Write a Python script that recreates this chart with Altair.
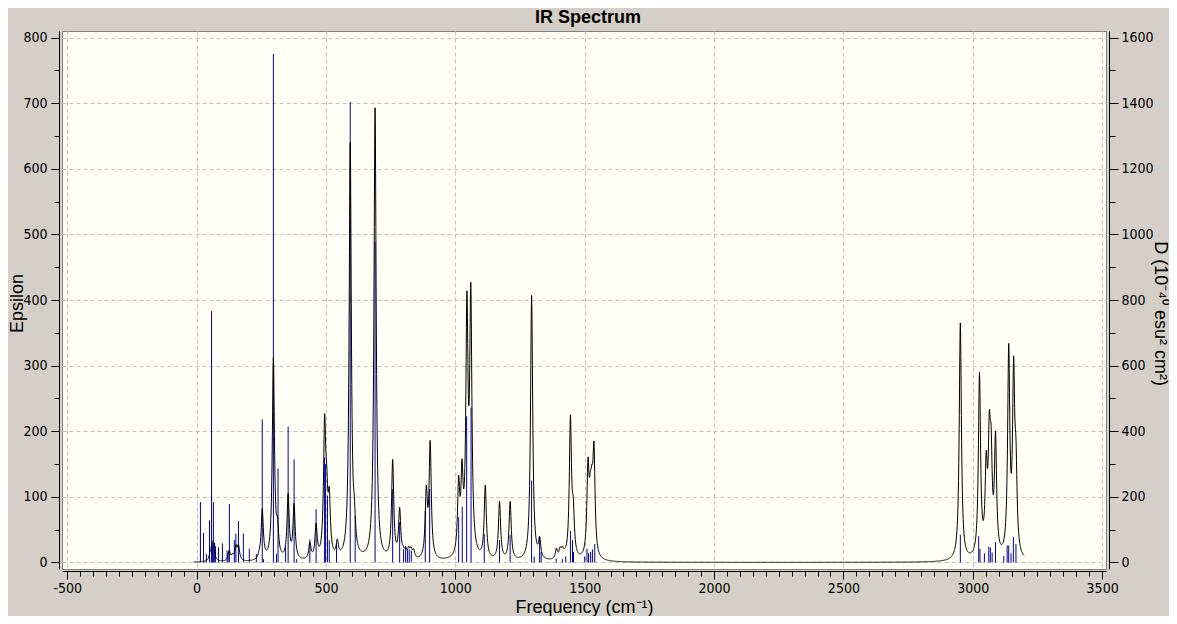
import altair as alt
import numpy as np
import pandas as pd

# ---------------- data ----------------
# blue sticks: frequency (cm-1) and dipole strength D (10^-40 esu^2 cm^2)
stick_freq = [15, 27, 38, 50, 58, 62, 65, 70, 73, 85, 100, 118, 122, 127, 146, 152, 162,
              181, 204, 231, 254, 259, 297, 309, 315, 344, 354, 377, 387, 438, 462, 495,
              498, 506, 513, 541, 594, 613, 690, 758, 785, 800, 808, 815, 822, 830, 884,
              901, 1013, 1027, 1044, 1061, 1112, 1171, 1212, 1295, 1305, 1326, 1332, 1390,
              1414, 1427, 1445, 1453, 1457, 1500, 1509, 1515, 1523, 1530, 1539, 2952,
              3023, 3028, 3045, 3062, 3068, 3075, 3088, 3120, 3133, 3139, 3148, 3157, 3167]
stick_D = [184, 90, 26, 128, 766, 60, 184, 60, 50, 46, 58, 36, 30, 178, 68, 88, 126,
           88, 42, 26, 436, 10, 1550, 26, 286, 48, 414, 314, 10, 70, 162, 320,
           300, 204, 68, 58, 1404, 142, 976, 224, 122, 40, 50, 40, 40, 36, 158,
           224, 138, 170, 446, 472, 86, 68, 84, 250, 18, 78, 32, 12,
           10, 18, 96, 68, 32, 18, 42, 28, 32, 40, 56, 84,
           80, 42, 28, 48, 46, 30, 62, 20, 52, 52, 28, 78, 56]

# black curve: local maxima (frequency, epsilon) of the broadened spectrum
peak_freq = [52, 60, 66, 126, 139, 152, 162, 242, 254, 297, 313, 354, 377, 438, 462,
             495, 503, 513, 544, 594, 610, 690, 698, 758, 785, 798, 808, 820, 829, 839,
             888, 903, 1013, 1026, 1045, 1060, 1116, 1171, 1212, 1295, 1326, 1391, 1405,
             1414, 1423, 1445, 1456, 1513, 1522, 1528, 1536, 2952, 3026, 3052, 3064,
             3071, 3088, 3139, 3158, 3167]
peak_eps = [16, 32, 30, 19, 14, 27, 28, 20, 82, 312, 70, 105, 90, 31, 60,
            227, 150, 115, 36, 640, 100, 693, 110, 157, 84, 26, 24, 25, 24, 21,
            118, 186, 133, 158, 414, 427, 118, 93, 93, 407, 40, 22, 24,
            25, 22, 225, 100, 161, 140, 150, 185, 365, 290, 171, 232,
            209, 200, 334, 315, 190]
half_width = 5.0          # cm-1, Lorentzian half width at half height
curve_start, curve_end = -12, 3198

# axis tick values
x_major = [-500, 0, 500, 1000, 1500, 2000, 2500, 3000, 3500]
x_minor = [v for v in range(-500, 3501, 50) if v % 500 != 0]
yl_major = [0, 100, 200, 300, 400, 500, 600, 700, 800]
yl_minor = [50, 150, 250, 350, 450, 550, 650, 750]
yr_major = [0, 200, 400, 600, 800, 1000, 1200, 1400, 1600]
yr_minor = [100, 300, 500, 700, 900, 1100, 1300, 1500]

# ---------------- build the broadened curve ----------------
def lorentz(x, x0):
    return 1.0 / (1.0 + ((x - x0) / half_width) ** 2)

pf = np.array(peak_freq, dtype=float)
ph = np.array(peak_eps, dtype=float)
M = lorentz(pf[:, None], pf[None, :])
amp = ph.copy()
for _ in range(400):
    amp = np.clip(amp + 0.5 * (ph - M @ amp), 0, None)
grid = np.arange(curve_start, curve_end + 1, 1.0)
curve_vals = lorentz(grid[:, None], pf[None, :]) @ amp

curve_df = pd.DataFrame({"freq": grid, "eps": curve_vals})
stick_df = pd.DataFrame({"freq": stick_freq, "D": stick_D})
# tiny in-range tables that only carry the minor-tick axes
minor_l_df = pd.DataFrame({"x": x_major, "y": yl_major})
minor_r_df = pd.DataFrame({"x": x_major, "y": yr_major})

# ---------------- chart ----------------
LABEL_FONT = "Liberation Sans Narrow, DejaVu Sans Condensed, Liberation Sans, sans-serif"
TITLE_FONT = "Liberation Sans, Arial, sans-serif"
PLAIN = "'' + datum.value"

xscale = alt.Scale(domain=[-520, 3515], nice=False, zero=False)
ylscale = alt.Scale(domain=[-10, 810], nice=False, zero=False)
yrscale = alt.Scale(domain=[-20, 1620], nice=False, zero=False)

sticks = alt.Chart(stick_df).mark_rule(color="#0000a0", strokeWidth=1).encode(
    x=alt.X("freq:Q", scale=xscale, axis=None),
    y=alt.Y("D:Q", scale=yrscale,
            axis=alt.Axis(orient="right", values=yr_major, title="D (10⁻⁴⁰ esu² cm²)",
                          grid=False, offset=3, tickSize=9, labelPadding=3, labelExpr=PLAIN,
                          titleX=45, titleY=282, titleBaseline="alphabetic", titleAngle=90)),
    y2=alt.datum(0),
)

curve = alt.Chart(curve_df).mark_line(color="black", strokeWidth=1).encode(
    x=alt.X("freq:Q", scale=xscale,
            axis=alt.Axis(orient="bottom", values=x_major, title="Frequency (cm⁻¹)",
                          grid=True, offset=2, tickSize=8, labelPadding=2,
                          labelExpr=PLAIN, titleY=41, titleBaseline="alphabetic")),
    y=alt.Y("eps:Q", scale=ylscale,
            axis=alt.Axis(orient="left", values=yl_major, title="Epsilon",
                          grid=True, offset=3, tickSize=8, labelPadding=4, labelExpr=PLAIN,
                          titleX=-37, titleY=272, titleBaseline="alphabetic")),
)

minor_lb = alt.Chart(minor_l_df).mark_point(opacity=0).encode(
    x=alt.X("x:Q", scale=xscale,
            axis=alt.Axis(orient="bottom", values=x_minor, labels=False, domain=False,
                          grid=False, tickSize=5, offset=2, title=None)),
    y=alt.Y("y:Q", scale=ylscale,
            axis=alt.Axis(orient="left", values=yl_minor, labels=False, domain=False,
                          grid=False, tickSize=5, offset=3, title=None)),
)

minor_r = alt.Chart(minor_r_df).mark_point(opacity=0).encode(
    x=alt.X("x:Q", scale=xscale, axis=None),
    y=alt.Y("y:Q", scale=yrscale,
            axis=alt.Axis(orient="right", values=yr_minor, labels=False, domain=False,
                          grid=False, tickSize=6, offset=3, title=None)),
)

chart = alt.layer(sticks, curve, minor_lb, minor_r).resolve_scale(
    x="independent", y="independent"
).properties(
    width=1044,
    height=538,
    padding={"left": 54, "top": 23, "right": 63, "bottom": 47},
    autosize=alt.AutoSizeParams(type="none"),
    background="#d4d0c8",
    title=alt.TitleParams("IR Spectrum", fontSize=18, fontWeight="bold", font=TITLE_FONT,
                          anchor="middle", frame="group", offset=4,
                          color="black", dx=4),
).configure_view(
    fill="#fffff5", stroke="#808080", strokeWidth=1
).configure_axis(
    domainColor="black", tickColor="black", labelColor="black",
    labelFont=LABEL_FONT, labelFontSize=14,
    titleFont=TITLE_FONT, titleFontSize=18, titleFontWeight="normal", titleColor="black",
    gridColor="#c0c0c0", gridDash=[4, 3], gridWidth=1,
)

chart.save("out.html", embed_options={"renderer": "svg", "actions": False})
